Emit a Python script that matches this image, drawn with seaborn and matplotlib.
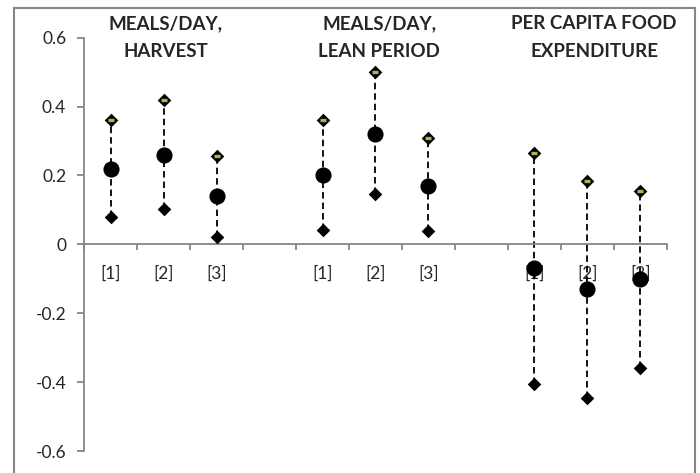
import seaborn as sns
import matplotlib.pyplot as plt
import pandas as pd
import numpy as np

# slot positions on the category axis (gaps between the three groups)
slots = [0, 1, 2, 4, 5, 6, 8, 9, 10]
slot_labels = ['[1]', '[2]', '[3]', '', '[1]', '[2]', '[3]', '', '[1]', '[2]', '[3]']
estimate = [0.22, 0.26, 0.14, 0.20, 0.32, 0.17, -0.07, -0.13, -0.10]
upper = [0.36, 0.418, 0.257, 0.36, 0.50, 0.308, 0.264, 0.185, 0.155]
lower = [0.08, 0.103, 0.021, 0.043, 0.146, 0.039, -0.406, -0.447, -0.358]
group_titles = ['MEALS/DAY,\nHARVEST', 'MEALS/DAY,\nLEAN PERIOD', 'PER CAPITA FOOD\nEXPENDITURE']
title_x = [1.04, 5.07, 9.13]
yticks = [0.6, 0.4, 0.2, 0, -0.2, -0.4, -0.6]
ytick_labels = ['0.6', '0.4', '0.2', '0', '-0.2', '-0.4', '-0.6']

df = pd.DataFrame({'x': slots, 'est': estimate, 'hi': upper, 'lo': lower})

sns.set_style('white')
plt.rcParams['font.family'] = ['Lato', 'DejaVu Sans']

gray = '#868686'
green = '#9BBB59'

fig = plt.figure(figsize=(7, 4.73), dpi=100)

# outer chart border as an empty background axes (bottom edge cut off)
frame = fig.add_axes([13.5 / 700, -0.02, 681 / 700, 1.02 - 7.5 / 473], zorder=-1)
frame.set_xticks([])
frame.set_yticks([])
frame.patch.set_alpha(0)
for s in frame.spines.values():
    s.set_color(gray)
    s.set_linewidth(1.5)

ax = fig.add_axes([0.1204, 0.0465, 0.832, 0.8738])
ax.patch.set_alpha(0)

ax.vlines(df['x'], df['lo'], df['hi'], colors='black', linewidth=1.3,
          linestyles=(0, (3.6, 2.2)), zorder=1)
sns.scatterplot(data=df, x='x', y='lo', marker='D', s=48, color='black',
                edgecolor='black', linewidth=0, ax=ax, zorder=3)
sns.scatterplot(data=df, x='x', y='hi', marker='D', s=48, color='black',
                edgecolor='black', linewidth=0, ax=ax, zorder=3)
sns.scatterplot(data=df, x='x', y='hi', marker='_', s=14, color=green,
                linewidth=2.4, ax=ax, zorder=4)
sns.scatterplot(data=df, x='x', y='est', marker='o', s=135, color='black',
                edgecolor='black', linewidth=0, ax=ax, zorder=3)

ax.set_xlim(-0.5, 10.5)
ax.set_ylim(-0.6, 0.6)
ax.set_xlabel('')
ax.set_ylabel('')

ax.spines['top'].set_visible(False)
ax.spines['right'].set_visible(False)
for s in ['left', 'bottom']:
    ax.spines[s].set_color(gray)
    ax.spines[s].set_linewidth(1.3)
ax.spines['bottom'].set_position(('data', 0))

ax.set_yticks(yticks, ytick_labels)
ax.set_xticks(range(len(slot_labels)), slot_labels)
ax.set_xticks(np.arange(-0.5, 11, 1), minor=True)
ax.tick_params(axis='y', which='major', left=True, length=5, width=1.3, color=gray,
               direction='out', pad=8, labelsize=12.5)
ax.tick_params(axis='x', which='major', bottom=True, length=0, pad=15, labelsize=12.5)
ax.tick_params(axis='x', which='minor', bottom=True, length=4, width=1.3, color=gray,
               direction='out')

for tx, t in zip(title_x, group_titles):
    ax.text(tx, 0.6, t, ha='center', va='center', fontsize=13.5,
            fontweight='bold', linespacing=1.75)

fig.savefig('out.png', dpi=100)
